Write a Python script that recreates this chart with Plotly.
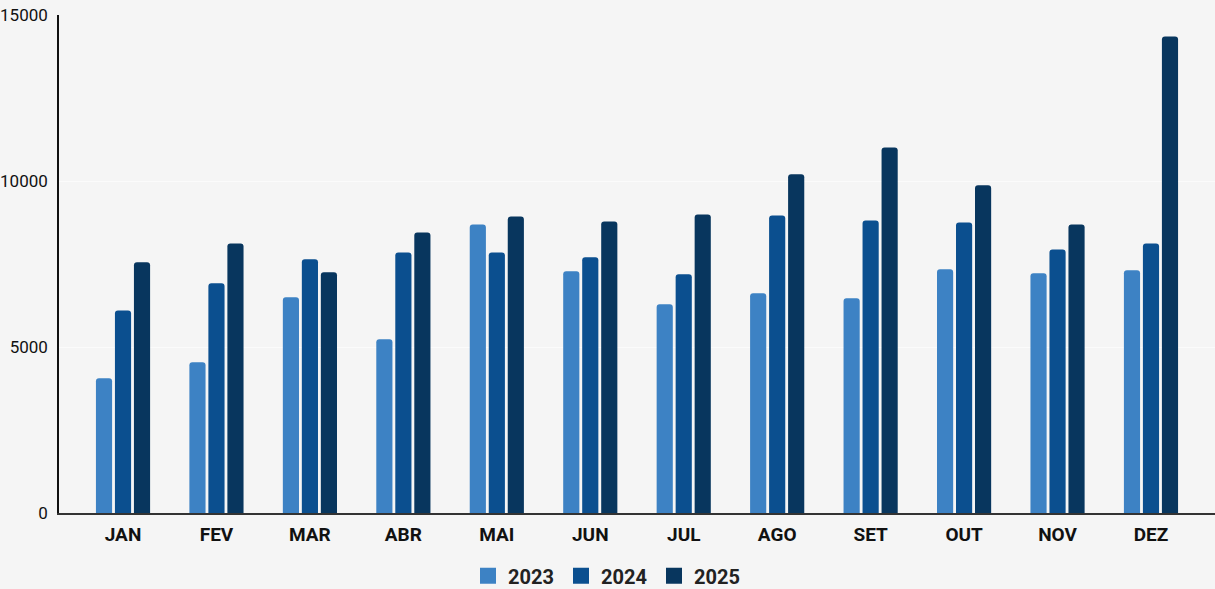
import plotly.graph_objects as go

# Monthly totals per year
months = ["JAN", "FEV", "MAR", "ABR", "MAI", "JUN", "JUL", "AGO", "SET", "OUT", "NOV", "DEZ"]
vals_2023 = [4060, 4540, 6500, 5230, 8690, 7280, 6290, 6620, 6470, 7340, 7220, 7310]
vals_2024 = [6100, 6920, 7640, 7850, 7850, 7700, 7190, 8960, 8810, 8750, 7940, 8120]
vals_2025 = [7550, 8120, 7250, 8450, 8930, 8780, 8990, 10200, 11010, 9870, 8690, 14350]

series = [
    ("2023", vals_2023, "#3d82c4"),
    ("2024", vals_2024, "#0b4f8f"),
    ("2025", vals_2025, "#08365e"),
]

fig = go.Figure()
for name, vals, color in series:
    fig.add_trace(go.Bar(
        x=months, y=vals, name=name, legendgroup=name, showlegend=False,
        marker=dict(color=color, line=dict(width=0)),
    ))
# Larger square swatches for the legend
for name, vals, color in series:
    fig.add_trace(go.Scatter(
        x=[None], y=[None], mode="markers", name=name, legendgroup=name,
        marker=dict(symbol="square", size=16, color=color),
    ))

fig.update_layout(
    width=1215, height=589,
    margin=dict(l=59, r=0, t=15, b=76, autoexpand=False),
    paper_bgcolor="#f5f5f5",
    plot_bgcolor="#f5f5f5",
    barmode="group",
    bargap=0.39,
    bargroupgap=0.15,
    barcornerradius=3,
    font=dict(family="Roboto, Arial, sans-serif", color="#111111"),
    legend=dict(
        orientation="h", xref="container", x=0.5, xanchor="center",
        yref="paper", y=-0.126, yanchor="middle",
        font=dict(size=20, color="#222222", weight="bold"),
        bgcolor="rgba(0,0,0,0)", itemwidth=30, tracegroupgap=0,
        entrywidth=48, entrywidthmode="pixels",
        itemsizing="trace",
    ),
    showlegend=True,
)

fig.update_xaxes(
    range=[-0.685, 11.685],
    showline=True, linecolor="#333333", linewidth=1.5,
    showgrid=False, ticks="",
    tickfont=dict(size=19, color="#111111", weight="bold"),
    ticklabelstandoff=3,
)
fig.update_yaxes(
    range=[0, 15000],
    tickvals=[0, 5000, 10000, 15000],
    ticktext=["0", "5000", "10000", "15000"],
    showline=True, linecolor="#111111", linewidth=1.5,
    showgrid=True, gridcolor="#fbfbfb", gridwidth=1,
    zeroline=False, ticks="",
    tickfont=dict(size=17, color="#111111"),
    ticklabelstandoff=6,
)

fig.write_html("out.html")
